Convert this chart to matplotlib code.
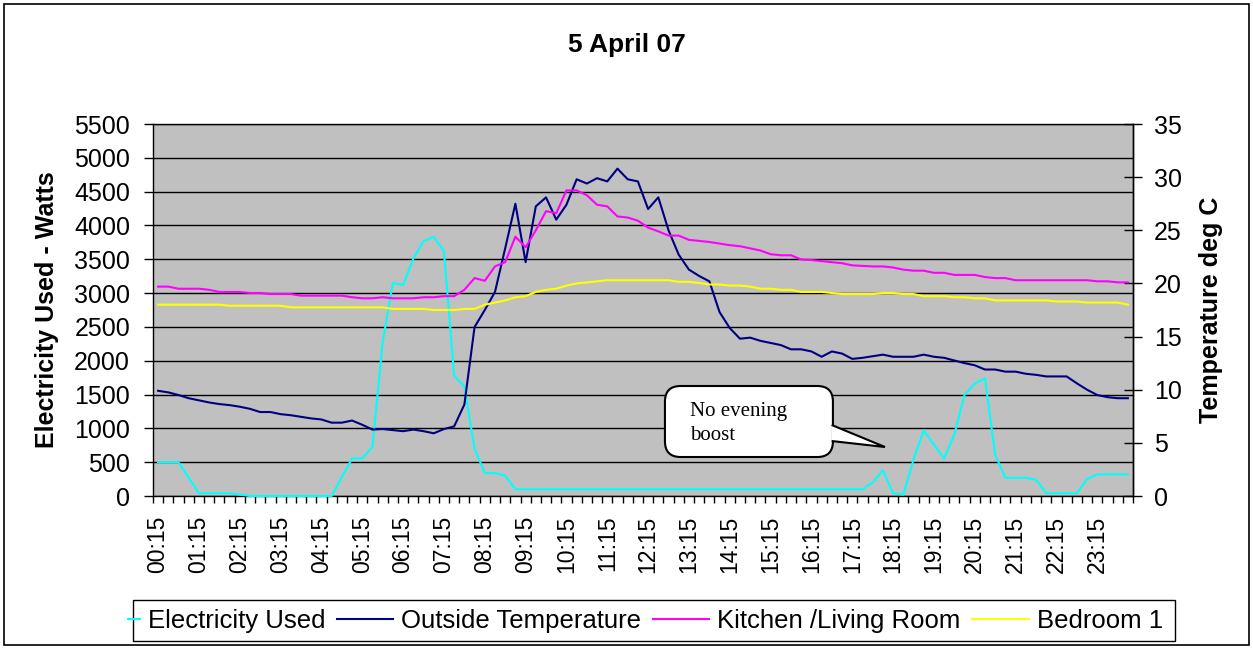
import numpy as np
import matplotlib
matplotlib.use('Agg')
import matplotlib.pyplot as plt
from matplotlib.patches import FancyBboxPatch, Polygon, Rectangle
from matplotlib.legend_handler import HandlerLine2D

plt.rcParams['font.family'] = ['Liberation Sans', 'DejaVu Sans']

# 15-minute readings, 00:15 .. 24:00
elec = [500, 500, 500, 270, 40, 40, 40, 40, 20, 0,
        0, 0, 0, 0, 0, 0, 0, 0, 280, 555,
        555, 730, 2280, 3150, 3120, 3510, 3770, 3830, 3620, 1780,
        1620, 700, 340, 340, 300, 100, 100, 100, 100, 100,
        100, 100, 100, 100, 100, 100, 100, 100, 100, 100,
        100, 100, 100, 100, 100, 100, 100, 100, 100, 100,
        100, 100, 100, 100, 100, 100, 100, 100, 100, 100,
        200, 380, 40, 20, 540, 970, 760, 555, 910, 1500,
        1660, 1740, 610, 270, 270, 270, 240, 40, 40, 40,
        40, 250, 320, 320, 320, 320]

outside = [9.9, 9.75, 9.5, 9.2, 9.0, 8.8, 8.65, 8.55, 8.4, 8.2,
           7.9, 7.9, 7.7, 7.6, 7.45, 7.3, 7.2, 6.9, 6.9, 7.1,
           6.7, 6.25, 6.3, 6.2, 6.1, 6.25, 6.1, 5.9, 6.3, 6.55,
           8.6, 15.9, 17.5, 19.2, 23.3, 27.5, 22.0, 27.25, 28.1, 26.0,
           27.4, 29.8, 29.4, 29.9, 29.6, 30.8, 29.8, 29.6, 27.0, 28.1,
           25.0, 22.7, 21.3, 20.7, 20.2, 17.3, 15.8, 14.8, 14.9, 14.6,
           14.4, 14.2, 13.8, 13.8, 13.6, 13.1, 13.6, 13.4, 12.9, 13.0,
           13.15, 13.3, 13.1, 13.1, 13.1, 13.3, 13.1, 13.0, 12.75, 12.5,
           12.3, 11.9, 11.9, 11.7, 11.7, 11.5, 11.4, 11.25, 11.25, 11.25,
           10.6, 10.0, 9.5, 9.3, 9.2, 9.2]

kitchen = [19.7, 19.7, 19.5, 19.5, 19.5, 19.4, 19.2, 19.2, 19.2, 19.1,
           19.1, 19.0, 19.0, 19.0, 18.85, 18.85, 18.85, 18.85, 18.85, 18.7,
           18.6, 18.6, 18.7, 18.6, 18.6, 18.6, 18.7, 18.7, 18.8, 18.8,
           19.4, 20.5, 20.25, 21.6, 22.0, 24.4, 23.4, 25.0, 26.8, 26.6,
           28.75, 28.75, 28.3, 27.4, 27.25, 26.3, 26.2, 25.9, 25.25, 24.9,
           24.5, 24.5, 24.1, 24.0, 23.9, 23.75, 23.6, 23.5, 23.3, 23.1,
           22.75, 22.65, 22.65, 22.25, 22.2, 22.1, 22.0, 21.9, 21.7, 21.65,
           21.6, 21.6, 21.5, 21.3, 21.2, 21.2, 21.0, 21.0, 20.8, 20.8,
           20.8, 20.6, 20.5, 20.5, 20.3, 20.3, 20.3, 20.3, 20.3, 20.3,
           20.3, 20.3, 20.2, 20.2, 20.1, 20.1]

bedroom = [18.0, 18.0, 18.0, 18.0, 18.0, 18.0, 18.0, 17.9, 17.9, 17.9,
           17.9, 17.9, 17.9, 17.75, 17.75, 17.75, 17.75, 17.75, 17.75, 17.75,
           17.75, 17.75, 17.75, 17.6, 17.6, 17.6, 17.6, 17.5, 17.5, 17.5,
           17.6, 17.6, 18.0, 18.2, 18.4, 18.7, 18.8, 19.2, 19.4, 19.5,
           19.8, 20.0, 20.1, 20.2, 20.3, 20.3, 20.3, 20.3, 20.3, 20.3,
           20.3, 20.15, 20.15, 20.05, 19.9, 19.9, 19.8, 19.8, 19.7, 19.5,
           19.5, 19.4, 19.4, 19.2, 19.2, 19.2, 19.1, 19.0, 19.0, 19.0,
           19.0, 19.1, 19.1, 19.0, 19.0, 18.8, 18.8, 18.8, 18.7, 18.7,
           18.6, 18.6, 18.4, 18.4, 18.4, 18.4, 18.4, 18.4, 18.3, 18.3,
           18.3, 18.2, 18.2, 18.2, 18.2, 18.0]

hour_labels = ['00:15', '01:15', '02:15', '03:15', '04:15', '05:15',
               '06:15', '07:15', '08:15', '09:15', '10:15', '11:15',
               '12:15', '13:15', '14:15', '15:15', '16:15', '17:15',
               '18:15', '19:15', '20:15', '21:15', '22:15', '23:15']


class ShortLineHandler(HandlerLine2D):
    """Legend handle that only shows the right end of the line (Excel clips it)."""
    def create_artists(self, legend, orig_handle, xdescent, ydescent,
                       width, height, fontsize, trans):
        arts = super().create_artists(legend, orig_handle, xdescent, ydescent,
                                      width, height, fontsize, trans)
        for a in arts:
            xd = np.asarray(a.get_xdata(), dtype=float)
            if len(xd) > 1:
                a.set_xdata(np.linspace(xd[-1] - 0.2 * (xd[-1] - xd[0]), xd[-1], len(xd)))
        return arts


W, H = 1253, 648
fig = plt.figure(figsize=(W / 100, H / 100), dpi=100)
fig.add_artist(Rectangle((4 / W, 3 / H), 1245 / W, 641 / H, transform=fig.transFigure,
                         fill=False, ec='black', lw=1.2))

ax = fig.add_axes([153 / W, 152 / H, 980 / W, 372 / H])
ax.set_facecolor('#C0C0C0')
x = np.arange(len(elec))

l1, = ax.plot(x, elec, color='#00FFFF', lw=1.5, label='Electricity Used',
              clip_on=False, zorder=3)
ax.set_xlim(-0.5, len(elec) - 0.5)
ax.set_ylim(0, 5500)
ax.set_yticks(range(0, 5501, 500))
ax.grid(axis='y', color='black', lw=1)
ax.set_axisbelow(True)

ax.set_xticks(x[::4])
ax.set_xticklabels(hour_labels, rotation=90, fontsize=16.5)
ax.set_xticks(np.arange(-0.5, len(elec), 1), minor=True)
ax.tick_params(axis='x', which='major', length=0, pad=14)
ax.tick_params(axis='x', which='minor', length=5, direction='out', width=1)
ax.tick_params(axis='y', length=6.5, pad=10, labelsize=18, width=1)
ax.set_ylabel('Electricity Used - Watts', fontsize=18, fontweight='bold', va='center')
ax.yaxis.set_label_coords(-0.108, 0.5)

ax2 = ax.twinx()
l2, = ax2.plot(x, outside, color='#000080', lw=1.5, label='Outside Temperature')
l3, = ax2.plot(x, kitchen, color='#FF00FF', lw=1.5, label='Kitchen /Living Room')
l4, = ax2.plot(x, bedroom, color='#FFFF00', lw=1.5, label='Bedroom 1')
ax2.set_ylim(0, 35)
ax2.set_yticks(range(0, 36, 5))
ax2.tick_params(axis='y', direction='inout', length=13, pad=8.5, labelsize=18, width=1)
ax2.set_ylabel('Temperature deg C', fontsize=18, fontweight='bold', va='center', rotation=90)
ax2.yaxis.set_label_coords(1.08, 0.5)

for s in ax.spines.values():
    s.set_color('black')
    s.set_linewidth(1)
for name in ('top', 'bottom', 'left'):
    ax2.spines[name].set_visible(False)
ax2.spines['right'].set_linewidth(1)

# callout
tail = Polygon([(0.6925, 0.1909), (0.7469, 0.1317), (0.6925, 0.1478)], closed=False,
               transform=ax2.transAxes, fc='white', ec='black', lw=1.5, zorder=6)
box = FancyBboxPatch((0.5224, 0.1048), 0.1714, 0.1909,
                     boxstyle='round,pad=0,rounding_size=0.016', mutation_aspect=980 / 372,
                     transform=ax2.transAxes, fc='white', ec='black', lw=1.5, zorder=5)
ax2.add_patch(box)
ax2.add_patch(tail)
ax2.text(0.548, 0.253, 'No evening\nboost', transform=ax2.transAxes,
         family=['Liberation Serif', 'DejaVu Serif'], fontsize=15, va='top', ha='left',
         linespacing=1.35, zorder=7)

fig.text(627 / W, 1 - 45 / H, '5 April 07', ha='center', va='center',
         fontsize=19, fontweight='bold')

# legend: frame drawn separately, first handle mostly hidden as in the original
fig.add_artist(Rectangle((133 / W, (H - 641) / H), 1042 / W, 41 / H, transform=fig.transFigure,
                         fill=False, ec='black', lw=1))
handles = [l1, l2, l3, l4]
fig.legend(handles, [h.get_label() for h in handles],
           loc='center left', bbox_to_anchor=(83 / W, (H - 621) / H), ncol=4, fontsize=18.5,
           frameon=False, handlelength=2.2, handletextpad=0.32, columnspacing=0.44,
           borderpad=0, borderaxespad=0, handler_map={l1: ShortLineHandler()})

fig.savefig('out.png', dpi=100)
